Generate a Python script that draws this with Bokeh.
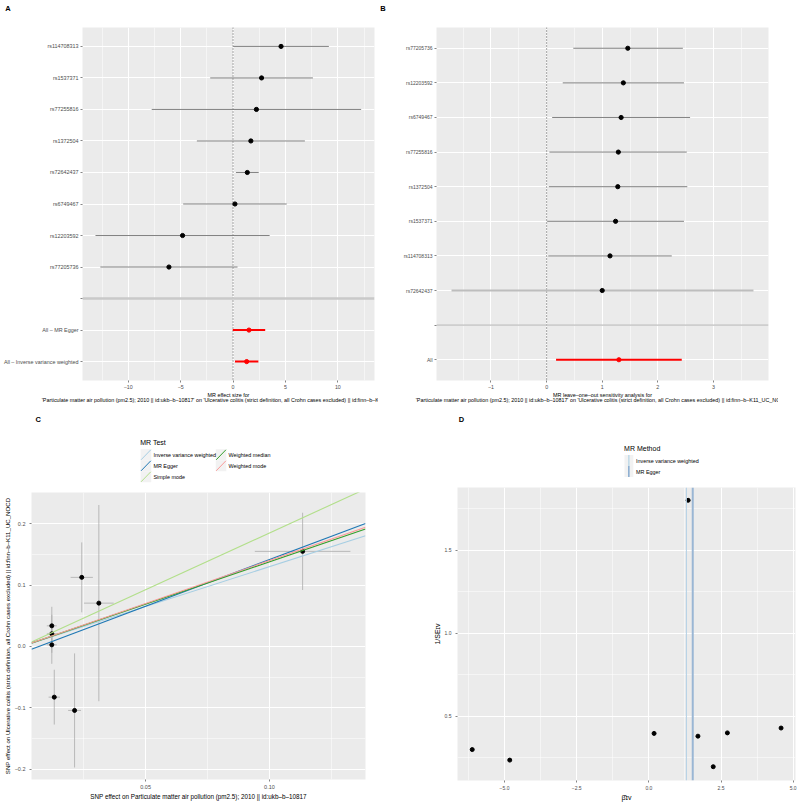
from bokeh.plotting import figure
from bokeh.models import FixedTicker, Span, Range1d, ColumnDataSource
from bokeh.core.properties import value
from bokeh.layouts import column, row
from bokeh.embed import file_html
from bokeh.resources import INLINE

FONT = "Liberation Sans"

# ---------------- data ----------------
# Panel A / D : single-SNP Wald ratios (top to bottom in panel A)
a_snps = ["rs114708313", "rs1537371", "rs77255816", "rs1372504",
          "rs72642437", "rs6749467", "rs12203592", "rs77205736"]
a_b = [4.58, 2.72, 2.23, 1.70, 1.36, 0.18, -4.82, -6.12]
a_se = [2.33, 2.50, 5.10, 2.63, 0.555, 2.52, 4.24, 3.34]
a_methods = ["All – MR Egger", "All – Inverse variance weighted"]
a_mb = [1.52, 1.30]
a_mse = [0.79, 0.57]
a_xticks = [-10, -5, 0, 5, 10]
a_xminor = [-12.5, -7.5, -2.5, 2.5, 7.5, 12.5]

# Panel B : leave-one-out (top to bottom)
b_snps = ["rs77205736", "rs12203592", "rs6749467", "rs77255816",
          "rs1372504", "rs1537371", "rs114708313", "rs72642437"]
b_b = [1.46, 1.38, 1.34, 1.29, 1.28, 1.24, 1.14, 1.00]
b_lo = [0.48, 0.29, 0.10, 0.05, 0.04, 0.01, 0.03, -1.71]
b_up = [2.45, 2.47, 2.58, 2.52, 2.53, 2.47, 2.25, 3.72]
b_all = ["All"]
b_all_b = [1.30]
b_all_lo = [0.17]
b_all_up = [2.43]
b_xticks = [-1, 0, 1, 2, 3]
b_xminor = [-1.5, -0.5, 0.5, 1.5, 2.5, 3.5]

# Panel C : scatter of SNP effects
c_bx = [0.0121, 0.0121, 0.0121, 0.0131, 0.0213, 0.0242, 0.0311, 0.1134]
c_by = [0.0336, 0.0206, 0.0026, -0.0827, -0.1044, 0.1126, 0.0706, 0.155]
c_sex = [0.0020, 0.0020, 0.0020, 0.0023, 0.0026, 0.0045, 0.0060, 0.0193]
c_sey = [0.031, 0.031, 0.031, 0.0447, 0.093, 0.057, 0.160, 0.063]
c_methods = ["Inverse variance weighted", "MR Egger", "Simple mode",
             "Weighted median", "Weighted mode"]
c_slope = [1.30, 1.52, 1.85, 1.38, 1.40]
c_icpt = [0.0, -0.0105, 0.0, 0.0, 0.0]
c_xrange = (0.0039, 0.1388)
c_yrange = (-0.217, 0.251)
c_xticks = [0.05, 0.10]
c_xlabels = ["0.05", "0.10"]
c_yticks = [-0.2, -0.1, 0.0, 0.1, 0.2]
c_ylabels = ["−0.2", "−0.1", "0.0", "0.1", "0.2"]

# Panel D : funnel
d_methods = ["Inverse variance weighted", "MR Egger"]
d_xticks = [-5.0, -2.5, 0.0, 2.5, 5.0]
d_xlabels = ["−5.0", "−2.5", "0.0", "2.5", "5.0"]
d_yticks = [0.5, 1.0, 1.5]
d_ylabels = ["0.5", "1.0", "1.5"]

TITLE2 = ("'Particulate matter air pollution (pm2.5); 2010 || id:ukb–b–10817' on "
          "'Ulcerative colitis (strict definition, all Crohn cases excluded) || "
          "id:finn–b–K11_UC_NOCD'")

C_COLORS = ["#A6CEE3", "#1F78B4", "#B2DF8A", "#33A02C", "#FB9A99"]
D_COLORS = ["#B3D1E6", "#9AB6D4"]
D_KEY_COLORS = ["#A6CEE3", "#4F86BE"]


def minus(v):
    return ("%g" % v).replace("-", "−")


def base_fig(w, h, l, r, t, b, xr, yr, tick_size="5.5px"):
    p = figure(width=w, height=h, x_range=Range1d(*xr), y_range=Range1d(*yr),
               output_backend="svg", toolbar_location=None,
               min_border_left=l, min_border_right=r,
               min_border_top=t, min_border_bottom=b)
    p.background_fill_color = "#EBEBEB"
    p.border_fill_color = "white"
    p.outline_line_color = None
    for ax in p.axis:
        ax.axis_line_color = None
        ax.major_tick_line_color = "#333333"
        ax.major_tick_line_width = 0.6
        ax.major_tick_out = 2
        ax.major_tick_in = 0
        ax.minor_tick_line_color = None
        ax.major_label_text_color = "#4D4D4D"
        ax.major_label_text_font = FONT
        ax.major_label_text_font_size = tick_size
        ax.major_label_standoff = 2
        ax.axis_label_text_font = FONT
        ax.axis_label_text_font_style = "normal"
        ax.axis_label_text_color = "black"
        ax.axis_label_standoff = 1
    p.xaxis[0].major_label_standoff = 1
    for g in p.grid:
        g.grid_line_color = "white"
        g.grid_line_width = 1
        g.minor_grid_line_color = "white"
        g.minor_grid_line_width = 0.5
    return p


def blank_fig(w, h):
    p = figure(width=w, height=h, x_range=Range1d(0, w), y_range=Range1d(h, 0),
               output_backend="svg", toolbar_location=None,
               x_axis_type=None, y_axis_type=None, min_border=0)
    p.outline_line_color = None
    p.background_fill_color = "white"
    p.border_fill_color = "white"
    return p


def put_text(p, xs, ys, texts, size, align="left", bold=False, color="black"):
    p.text(x=xs, y=ys, text=texts, text_font=value(FONT), text_font_size=value(size),
           text_align=align, text_baseline="middle", text_color=color,
           text_font_style="bold" if bold else "normal")


def forest_title(p, text):
    ax = p.xaxis[0]
    ax.axis_label = text
    ax.axis_label_text_font_size = "5.4px"
    ax.axis_label_standoff = 0
    ax.axis_label_text_line_height = 0.95
    ax.major_label_standoff = 0


# ---------------- panel letters strip (top) ----------------
pTop = blank_fig(800, 15)
put_text(pTop, [7.5, 382.5], [8, 8], ["A", "B"], "7.5px", align="center", bold=True)

# ---------------- Panel A ----------------
pA = base_fig(378, 392, 81, 4, 8, 27, (-14.37, 13.5), (0.4, 11.6), tick_size="5.3px")
n_a = len(a_snps)
a_pos = [n_a + 3 - i for i in range(n_a)]          # 11..4
m_pos = [2, 1]
sep_a = 3
pA.xaxis[0].ticker = FixedTicker(ticks=a_xticks, minor_ticks=a_xminor)
pA.xaxis[0].major_label_overrides = {t: minus(t) for t in a_xticks}
pA.yaxis[0].ticker = FixedTicker(ticks=sorted(a_pos + [sep_a] + m_pos), minor_ticks=[])
ov = {p_: n_ for p_, n_ in zip(a_pos, a_snps)}
ov[sep_a] = ""
ov.update({p_: n_ for p_, n_ in zip(m_pos, a_methods)})
pA.yaxis[0].major_label_overrides = ov
pA.yaxis[0].major_label_text_font_size = "5.4px"
forest_title(pA, "MR effect size for\n" + TITLE2)

pA.add_layout(Span(location=0, dimension="height", line_color="#222222",
                   line_dash="1 2", line_width=0.8, level="underlay"))
pA.add_layout(Span(location=sep_a, dimension="width", line_color="#C9C9C9",
                   line_width=2.5, level="underlay"))
srcA = ColumnDataSource(dict(
    y=a_pos, b=a_b,
    lo=[b - 1.96 * s for b, s in zip(a_b, a_se)],
    up=[b + 1.96 * s for b, s in zip(a_b, a_se)]))
pA.segment(x0="lo", x1="up", y0="y", y1="y", source=srcA, line_color="#737373", line_width=0.9)
pA.scatter("b", "y", source=srcA, size=4.2, color="black")
srcAm = ColumnDataSource(dict(
    y=m_pos, b=a_mb,
    lo=[b - 1.96 * s for b, s in zip(a_mb, a_mse)],
    up=[b + 1.96 * s for b, s in zip(a_mb, a_mse)]))
pA.segment(x0="lo", x1="up", y0="y", y1="y", source=srcAm, line_color="#FF0000", line_width=2)
pA.scatter("b", "y", source=srcAm, size=4.2, color="#FF0000")

# ---------------- Panel B ----------------
pB = base_fig(400, 392, 58, 10, 12, 27, (-1.98, 3.99), (0.4, 10.6), tick_size="5.3px")
n_b = len(b_snps)
bp = [n_b + 2 - i for i in range(n_b)]      # 10..3
b_sep = 2
b_all_pos = [1]
pB.xaxis[0].ticker = FixedTicker(ticks=b_xticks, minor_ticks=b_xminor)
pB.xaxis[0].major_label_overrides = {t: minus(t) for t in b_xticks}
pB.yaxis[0].ticker = FixedTicker(ticks=sorted(bp + [b_sep] + b_all_pos), minor_ticks=[])
ovb = {p_: n_ for p_, n_ in zip(bp, b_snps)}
ovb[b_sep] = ""
ovb.update({p_: n_ for p_, n_ in zip(b_all_pos, b_all)})
pB.yaxis[0].major_label_overrides = ovb
pB.yaxis[0].major_label_text_font_size = "5px"
forest_title(pB, "MR leave–one–out sensitivity analysis for\n" + TITLE2)

pB.add_layout(Span(location=0, dimension="height", line_color="#222222",
                   line_dash="1 2", line_width=0.8, level="underlay"))
pB.add_layout(Span(location=b_sep, dimension="width", line_color="#BEBEBE",
                   line_width=1.3, level="underlay"))
line_cols = ["#BDBDBD" if s == "rs72642437" else "#737373" for s in b_snps]
line_ws = [2.0 if s == "rs72642437" else 0.9 for s in b_snps]
srcB = ColumnDataSource(dict(y=bp, b=b_b, lo=b_lo, up=b_up, c=line_cols, w=line_ws))
pB.segment(x0="lo", x1="up", y0="y", y1="y", source=srcB, line_color="c", line_width="w")
pB.scatter("b", "y", source=srcB, size=4.2, color="black")
srcBa = ColumnDataSource(dict(y=b_all_pos, b=b_all_b, lo=b_all_lo, up=b_all_up))
pB.segment(x0="lo", x1="up", y0="y", y1="y", source=srcBa, line_color="#FF0000", line_width=2)
pB.scatter("b", "y", source=srcBa, size=4.2, color="#FF0000")

# ---------------- Panel C legend strip ----------------
LEG_H = 76
legC = blank_fig(378, LEG_H)
put_text(legC, [7.5], [12], ["C"], "7.5px", align="center", bold=True)
put_text(legC, [123], [34.7], ["MR Test"], "7px")
kx0 = [123.5 if i < 3 else 208.5 for i in range(len(c_methods))]
ky0 = [41.8 + 11 * (i if i < 3 else i - 3) for i in range(len(c_methods))]
legC.quad(left=kx0, right=[x + 12 for x in kx0], top=ky0, bottom=[y + 11 for y in ky0],
          fill_color="#F2F2F2", line_color=None)
legC.segment(x0=[x + 0.5 for x in kx0], y0=[y + 10.5 for y in ky0],
             x1=[x + 11.5 for x in kx0], y1=[y + 0.5 for y in ky0],
             line_color=C_COLORS, line_width=1)
put_text(legC, [x + 14.5 for x in kx0], [y + 5.5 for y in ky0], c_methods, "5.4px")

# ---------------- Panel C ----------------
pC = base_fig(378, 320, 27, 13, 9, 24, c_xrange, c_yrange)
pC.xaxis[0].ticker = FixedTicker(ticks=c_xticks, minor_ticks=[0.025, 0.075, 0.125])
pC.xaxis[0].major_label_overrides = dict(zip(c_xticks, c_xlabels))
pC.yaxis[0].ticker = FixedTicker(ticks=c_yticks, minor_ticks=[-0.15, -0.05, 0.05, 0.15])
pC.yaxis[0].major_label_overrides = dict(zip(c_yticks, c_ylabels))
pC.xaxis[0].axis_label = "SNP effect on Particulate matter air pollution (pm2.5); 2010 || id:ukb–b–10817"
pC.yaxis[0].axis_label = ("SNP effect on Ulcerative colitis (strict definition, all Crohn cases "
                          "excluded) || id:finn–b–K11_UC_NOCD")
pC.xaxis[0].axis_label_text_font_size = "6.3px"
pC.yaxis[0].axis_label_text_font_size = "6.1px"
srcC = ColumnDataSource(dict(
    x=c_bx, y=c_by,
    xlo=[x - s for x, s in zip(c_bx, c_sex)], xhi=[x + s for x, s in zip(c_bx, c_sex)],
    ylo=[y - s for y, s in zip(c_by, c_sey)], yhi=[y + s for y, s in zip(c_by, c_sey)]))
pC.segment(x0="x", x1="x", y0="ylo", y1="yhi", source=srcC, line_color="#ABABAB", line_width=0.8)
pC.segment(x0="xlo", x1="xhi", y0="y", y1="y", source=srcC, line_color="#ABABAB", line_width=0.8)
pC.scatter("x", "y", source=srcC, size=4, color="black")
for s, ic, col in zip(c_slope, c_icpt, C_COLORS):
    xs = list(c_xrange)
    pC.line(x=xs, y=[ic + s * x for x in xs], line_color=col, line_width=1.1)

# ---------------- Panel D legend strip ----------------
legD = blank_fig(422, LEG_H)
put_text(legD, [5], [11.5], ["D"], "7.5px", align="center", bold=True)
put_text(legD, [208], [40.7], ["MR Method"], "7px")
dk0 = [208.5 for _ in d_methods]
dky = [47.5 + 11 * i for i in range(len(d_methods))]
legD.quad(left=dk0, right=[x + 11 for x in dk0], top=dky, bottom=[y + 11 for y in dky],
          fill_color="#F2F2F2", line_color=None)
legD.segment(x0=[x + 5.5 for x in dk0], y0=dky, x1=[x + 5.5 for x in dk0],
             y1=[y + 11 for y in dky], line_color=D_KEY_COLORS, line_width=1)
put_text(legD, [x + 14.5 for x in dk0], [y + 5.5 for y in dky], d_methods, "5.4px")

# ---------------- Panel D ----------------
pD = base_fig(422, 320, 79, 5, 4, 20, (-6.63, 5.08), (0.113, 1.879), tick_size="5px")
pD.xaxis[0].ticker = FixedTicker(ticks=d_xticks, minor_ticks=[-6.25, -3.75, -1.25, 1.25, 3.75])
pD.xaxis[0].major_label_overrides = dict(zip(d_xticks, d_xlabels))
pD.yaxis[0].ticker = FixedTicker(ticks=d_yticks, minor_ticks=[0.25, 0.75, 1.25, 1.75])
pD.yaxis[0].major_label_overrides = dict(zip(d_yticks, d_ylabels))
pD.xaxis[0].axis_label = "β\u0302ɪᴠ"
pD.yaxis[0].axis_label = "1/SEɪᴠ"
pD.xaxis[0].axis_label_text_font_size = "7px"
pD.yaxis[0].axis_label_text_font_size = "7px"
srcD = ColumnDataSource(dict(x=a_b, y=[1.0 / s for s in a_se]))
pD.scatter("x", "y", source=srcD, size=4, color="black")
for est, col, w in zip([a_mb[1], a_mb[0]], D_COLORS, [1.0, 2.0]):
    pD.add_layout(Span(location=est, dimension="height", line_color=col, line_width=w))

layout = column(pTop, row(pA, pB),
                row(column(legC, pC), column(legD, pD)))
open("out.html", "w").write(file_html(layout, INLINE))
